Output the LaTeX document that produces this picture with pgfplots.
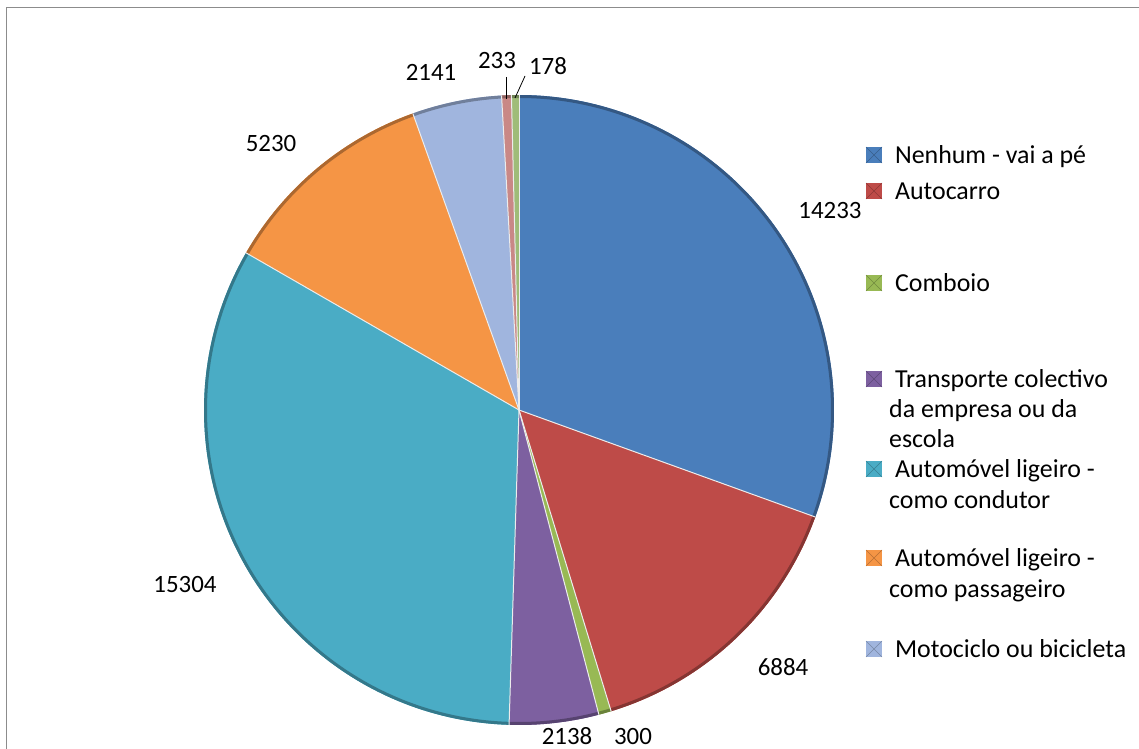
\documentclass[border=0pt]{standalone}
\usepackage{pgfplots}
\usepackage{pgfplotstable}
\pgfplotsset{compat=1.18}
\usepackage{fontspec}
\setmainfont{Carlito}

\definecolor{c0}{HTML}{4A7EBB}
\definecolor{c1}{HTML}{BE4B48}
\definecolor{c2}{HTML}{98B954}
\definecolor{c3}{HTML}{7D60A0}
\definecolor{c4}{HTML}{4AACC5}
\definecolor{c5}{HTML}{F59545}
\definecolor{c6}{HTML}{A0B5DE}
\definecolor{c7}{HTML}{C98886}
\definecolor{c8}{HTML}{9FBC78}
\definecolor{frame}{HTML}{8C8C8C}

\pgfplotstableread{
value
14233
6884
300
2138
15304
5230
2141
233
178
}\pietable

% angles of the slices, clockwise from the top
\pgfmathsetmacro\total{0}%
\pgfplotsforeachungrouped \i in {0,...,8}{%
  \pgfplotstablegetelem{\i}{value}\of\pietable
  \pgfmathsetmacro\total{\total+\pgfplotsretval/1000}}%
\pgfmathsetmacro\a{90}%
\pgfplotsforeachungrouped \i in {0,...,8}{%
  \pgfplotstablegetelem{\i}{value}\of\pietable
  \pgfmathsetmacro\b{\a-\pgfplotsretval/1000/\total*360}%
  \expandafter\xdef\csname aS\i\endcsname{\a}%
  \expandafter\xdef\csname aE\i\endcsname{\b}%
  \let\a\b}%

% legend marker: baseline y, colour
\newcommand\legmark[2]{%
  \fill[#2] (axis cs:866,#1-16) rectangle (axis cs:882,#1);
  \draw[#2!75!black, line width=0.4bp] (axis cs:866,#1-16) -- (axis cs:882,#1)
    (axis cs:866,#1) -- (axis cs:882,#1-16);}

\begin{document}
\begin{tikzpicture}
\useasboundingbox (0,0) rectangle (1139bp,749bp);
\begin{axis}[
  at={(0,0)}, anchor=south west,
  width=1139bp, height=749bp, scale only axis,
  xmin=0, xmax=1139, ymin=0, ymax=749, y dir=reverse,
  hide axis, clip=false,
]
\draw[frame, line width=1.5bp] (axis cs:6.5,760) -- (axis cs:6.5,7.5) -- (axis cs:1150,7.5);

\pgfplotsinvokeforeach{0,...,8}{
  \fill[c#1] (axis cs:519,410) -- ++(\csname aS#1\endcsname:315bp)
    arc[start angle=\csname aS#1\endcsname, end angle=\csname aE#1\endcsname, radius=315bp] -- cycle;
  \draw[c#1!70!black, line width=3bp, line cap=butt] (axis cs:519,410) ++(\csname aS#1\endcsname:313.5bp)
    arc[start angle=\csname aS#1\endcsname, end angle=\csname aE#1\endcsname, radius=313.5bp];
}
\pgfplotsinvokeforeach{0,...,8}{
  \draw[white!85!gray, line width=1bp] (axis cs:519,410) -- ++(\csname aS#1\endcsname:315bp);
}

% data labels
\begin{scope}[every node/.style={font=\fontsize{25}{30}\selectfont, anchor=base, inner sep=0pt}]
\node at (axis cs:830,218) {14233};
\node at (axis cs:783,675) {6884};
\node at (axis cs:633,744) {300};
\node at (axis cs:567,744) {2138};
\node at (axis cs:185,592) {15304};
\node at (axis cs:271,152) {5230};
\node at (axis cs:431,81) {2141};
\node at (axis cs:497,69) {233};
\node at (axis cs:548,75) {178};
\end{scope}
\draw[black, line width=0.8bp] (axis cs:506,77) -- (axis cs:506,99);
\draw[black, line width=0.8bp] (axis cs:525,76) -- (axis cs:515,98);

% legend
\legmark{163}{c0}
\legmark{199}{c1}
\legmark{291}{c2}
\legmark{387}{c3}
\legmark{477}{c4}
\legmark{566}{c5}
\legmark{657}{c6}
\begin{scope}[every node/.style={font=\fontsize{26}{31}\selectfont, anchor=base west, inner sep=0pt}]
\node at (axis cs:889,163) {\ Nenhum - vai a pé};
\node at (axis cs:889,199) {\ Autocarro};
\node at (axis cs:889,291) {\ Comboio};
\node at (axis cs:889,387) {\ Transporte colectivo};
\node at (axis cs:889,417) {da empresa ou da};
\node at (axis cs:889,447) {escola};
\node at (axis cs:889,477) {\ Automóvel ligeiro -};
\node at (axis cs:889,508) {como condutor};
\node at (axis cs:889,566) {\ Automóvel ligeiro -};
\node at (axis cs:889,597) {como passageiro};
\node at (axis cs:889,657) {\ Motociclo ou bicicleta};
\end{scope}
\end{axis}
\end{tikzpicture}
\end{document}
